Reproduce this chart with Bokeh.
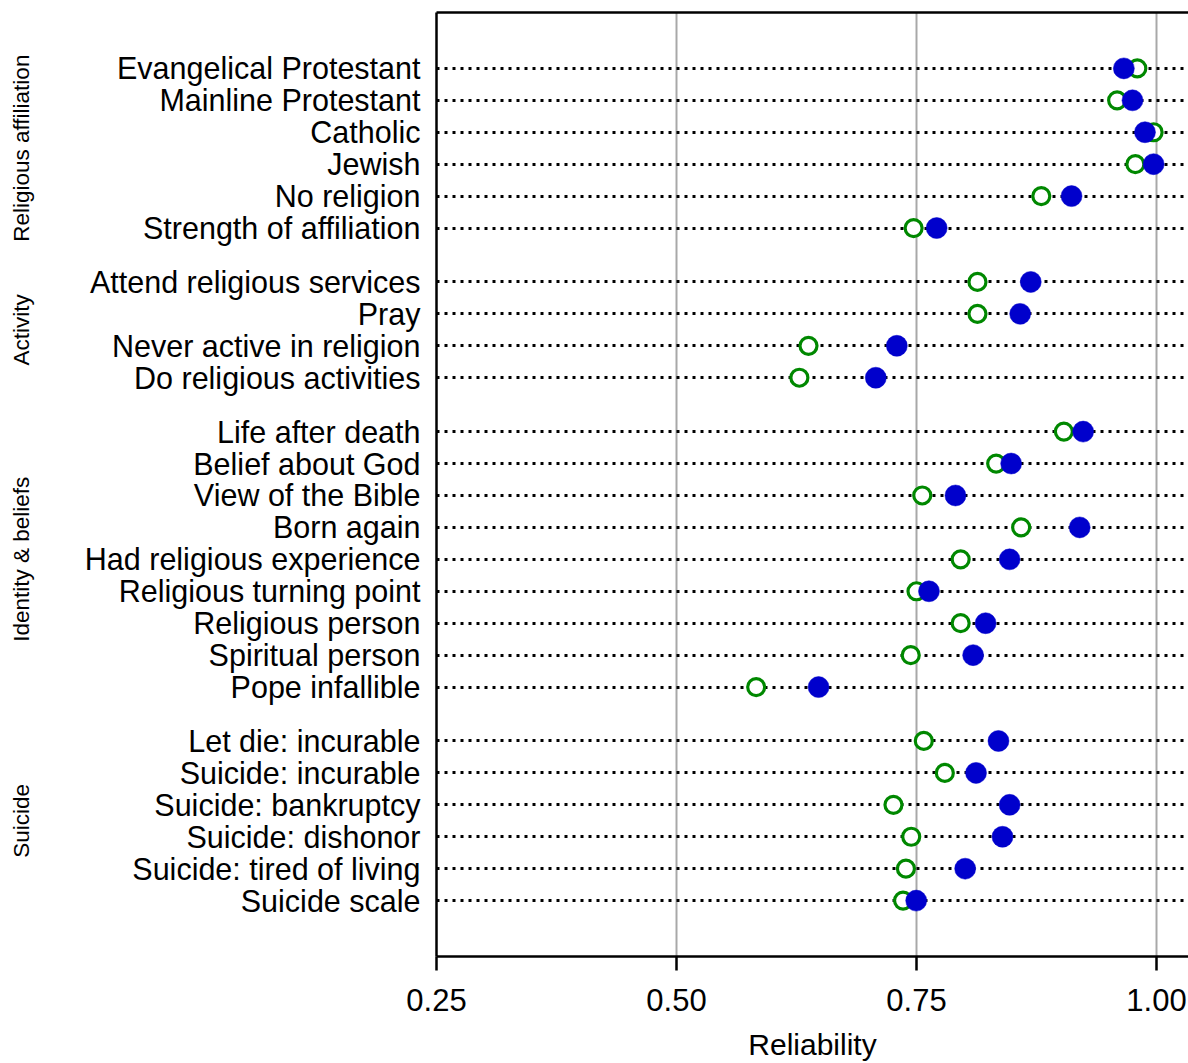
import math
from bokeh.plotting import figure
from bokeh.models import (ColumnDataSource, LinearAxis, FixedTicker, Range1d, Grid)
from bokeh.embed import file_html
from bokeh.resources import INLINE

# ---------------- data ----------------
groups = ["Religious affiliation", "Activity", "Identity & beliefs", "Suicide"]
group_items = [
    ["Evangelical Protestant", "Mainline Protestant", "Catholic", "Jewish",
     "No religion", "Strength of affiliation"],
    ["Attend religious services", "Pray", "Never active in religion",
     "Do religious activities"],
    ["Life after death", "Belief about God", "View of the Bible", "Born again",
     "Had religious experience", "Religious turning point", "Religious person",
     "Spiritual person", "Pope infallible"],
    ["Let die: incurable", "Suicide: incurable", "Suicide: bankruptcy",
     "Suicide: dishonor", "Suicide: tired of living", "Suicide scale"],
]
# open green circles
green_vals = [0.980, 0.959, 0.997, 0.978, 0.880, 0.747,
              0.8135, 0.8135, 0.6375, 0.628,
              0.9035, 0.833, 0.756, 0.859, 0.796, 0.750, 0.796, 0.744, 0.583,
              0.7576, 0.7795, 0.726, 0.7445, 0.739, 0.736]
# filled blue circles
blue_vals = [0.966, 0.975, 0.988, 0.997, 0.9115, 0.771,
             0.869, 0.858, 0.7295, 0.7076,
             0.9236, 0.8486, 0.7906, 0.920, 0.847, 0.763, 0.822, 0.809, 0.648,
             0.8354, 0.812, 0.847, 0.8396, 0.8007, 0.7497]
x_ticks = [0.25, 0.50, 0.75, 1.00]
x_tick_labels = ["0.25", "0.50", "0.75", "1.00"]

# ---------------- layout helpers ----------------
GAP = 0.6875
labels, ypos, group_centers = [], [], []
idx = 0
for g, items in enumerate(group_items):
    start = None
    for it in items:
        y = idx + g * GAP
        labels.append(it)
        ypos.append(y)
        start = y if start is None else start
        idx += 1
    group_centers.append((start + ypos[-1]) / 2.0)

FONT = "Liberation Sans"

src = ColumnDataSource(dict(y=ypos, g=green_vals, b=blue_vals))

p = figure(width=1188, height=1063, output_backend="svg", toolbar_location=None,
           x_range=Range1d(0.25, 0.25 + 752 / 960),
           y_range=Range1d(ypos[-1] + 1.75, ypos[0] - 1.75),
           min_border_left=436, min_border_right=0, min_border_top=12,
           min_border_bottom=105, y_axis_type=None, x_axis_type=None)
p.outline_line_color = None
p.background_fill_color = "white"
p.border_fill_color = "white"

# bottom axis
xa = LinearAxis(ticker=FixedTicker(ticks=x_ticks))
xa.major_label_overrides = {t: l for t, l in zip(x_ticks, x_tick_labels)}
xa.axis_label = "Reliability"
xa.axis_line_width = 2.5
xa.axis_line_color = "black"
xa.major_tick_line_width = 2.5
xa.major_tick_out = 14
xa.major_tick_in = 0
xa.minor_tick_out = 0
xa.minor_tick_in = 0
xa.major_label_standoff = 18
xa.axis_label_standoff = 14
xa.major_label_text_font = FONT
xa.major_label_text_font_size = "31px"
xa.major_label_text_color = "black"
xa.axis_label_text_font = FONT
xa.axis_label_text_font_size = "30px"
xa.axis_label_text_font_style = "normal"
xa.axis_label_text_color = "black"
p.add_layout(xa, "below")

# top frame line
ta = LinearAxis(ticker=FixedTicker(ticks=[]))
ta.axis_line_width = 2.5
ta.major_tick_out = 0
ta.major_tick_in = 0
ta.minor_tick_out = 0
ta.minor_tick_in = 0
ta.major_label_standoff = 0
ta.major_label_text_font_size = "0px"
p.add_layout(ta, "above")

# left axis with item labels
ya = LinearAxis(ticker=FixedTicker(ticks=ypos))
ya.major_label_overrides = {y: l for y, l in zip(ypos, labels)}
ya.axis_line_width = 2.5
ya.major_tick_out = 0
ya.major_tick_in = 0
ya.minor_tick_out = 0
ya.minor_tick_in = 0
ya.major_label_standoff = 16
ya.major_label_text_font = FONT
ya.major_label_text_font_size = "30.5px"
ya.major_label_text_color = "black"
p.add_layout(ya, "left")

# outer left axis with group labels
ga = LinearAxis(ticker=FixedTicker(ticks=group_centers))
ga.major_label_overrides = {y: l for y, l in zip(group_centers, groups)}
ga.major_label_orientation = "parallel"
ga.axis_line_color = None
ga.major_tick_out = 0
ga.major_tick_in = 0
ga.minor_tick_out = 0
ga.minor_tick_in = 0
ga.major_label_standoff = 47
ga.major_label_text_font = FONT
ga.major_label_text_font_size = "22.5px"
ga.major_label_text_color = "black"
p.add_layout(ga, "left")

# grids
p.xgrid.visible = False
vg = Grid(dimension=0, ticker=FixedTicker(ticks=x_ticks[1:]))
vg.grid_line_color = "#a8a8a8"
vg.grid_line_width = 2
p.add_layout(vg)
hg = Grid(dimension=1, ticker=FixedTicker(ticks=ypos))
hg.grid_line_color = "black"
hg.grid_line_width = 3
hg.grid_line_dash = "3 5"
p.add_layout(hg)

# points
p.scatter("g", "y", source=src, size=17, fill_color="white",
          line_color="#008800", line_width=3.2)
p.scatter("b", "y", source=src, size=21, fill_color="#0000CC",
          line_color="#0000CC", line_width=0.5)

open("out.html", "w").write(file_html(p, INLINE))
